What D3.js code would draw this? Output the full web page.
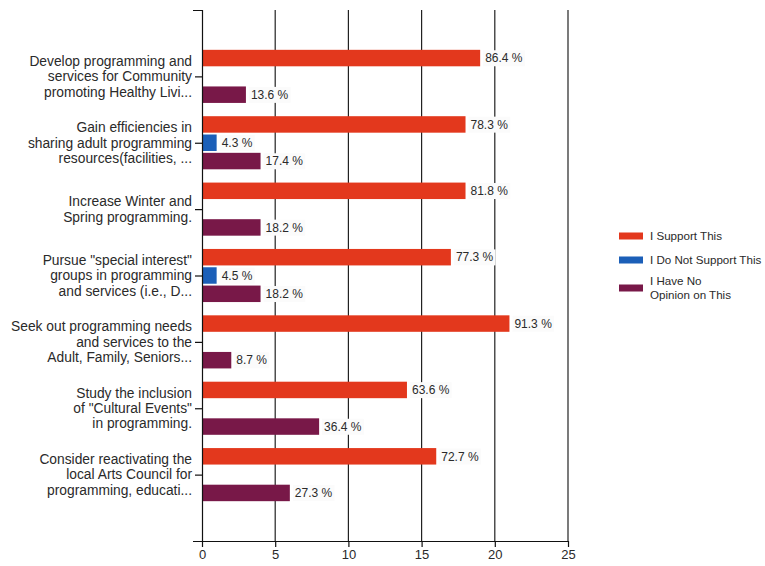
<!DOCTYPE html>
<html>
<head>
<meta charset="utf-8">
<script src="https://cdn.jsdelivr.net/npm/d3@7"></script>
<style>
  html, body { margin: 0; padding: 0; background: #fff; }
  svg { display: block; font-family: "Liberation Sans", Arial, sans-serif; }
</style>
</head>
<body>
<svg id="chart" width="765" height="566"></svg>
<script>
// Survey statements (wrapped and truncated as displayed on the axis)
const categories = [
  ["Develop programming and", "services for Community", "promoting Healthy Livi..."],
  ["Gain efficiencies in", "sharing adult programming", "resources(facilities, ..."],
  ["Increase Winter and", "Spring programming."],
  ["Pursue \"special interest\"", "groups in programming", "and services (i.e., D..."],
  ["Seek out programming needs", "and services to the", "Adult, Family, Seniors..."],
  ["Study the inclusion", "of \"Cultural Events\"", "in programming."],
  ["Consider reactivating the", "local Arts Council for", "programming, educati..."]
];

// Response series and counts per statement
const seriesNames = ["I Support This", "I Do Not Support This", "I Have No Opinion on This"];
const legendLines = [["I Support This"], ["I Do Not Support This"], ["I Have No", "Opinion on This"]];
const supportCounts    = [19, 18, 18, 17, 21, 14, 16];
const notSupportCounts = [0, 1, 0, 1, 0, 0, 0];
const noOpinionCounts  = [3, 4, 4, 4, 2, 8, 6];
const seriesColors = ["#e3381d", "#1b5fb8", "#781848"];
const xTickValues = [0, 5, 10, 15, 20, 25];

const counts = [supportCounts, notSupportCounts, noOpinionCounts];
const totals = categories.map((_, i) => counts.reduce((s, c) => s + c[i], 0));

const svg = d3.select("#chart");
const margin = { top: 10, right: 197, bottom: 25, left: 202 };
const W = +svg.attr("width"), H = +svg.attr("height");
const plotW = W - margin.left - margin.right;
const plotH = H - margin.top - margin.bottom;
const textColor = "#2a2a2a";

const g = svg.append("g").attr("transform", `translate(${margin.left},${margin.top})`);

const x = d3.scaleLinear().domain([0, 25]).range([0, plotW]);
const catIdx = d3.range(categories.length);
const y0 = d3.scaleBand().domain(catIdx).range([0, plotH]).paddingInner(0.2).paddingOuter(0.6);
const y1 = d3.scaleBand().domain(d3.range(seriesNames.length)).range([0, y0.bandwidth()]).paddingInner(0.1);

// vertical gridlines
g.append("g").selectAll("line")
  .data(xTickValues.filter(v => v > 0))
  .join("line")
  .attr("x1", d => x(d)).attr("x2", d => x(d))
  .attr("y1", 0).attr("y2", plotH)
  .attr("stroke", "#222").attr("stroke-width", 1.2);

// bars
const rows = [];
catIdx.forEach(i => {
  counts.forEach((c, s) => {
    rows.push({ cat: i, s, value: c[i], pct: c[i] / totals[i] * 100 });
  });
});
const visible = rows.filter(d => d.value > 0);

g.append("g").selectAll("rect")
  .data(visible)
  .join("rect")
  .attr("x", x(0) + 1)
  .attr("y", d => y0(d.cat) + y1(d.s))
  .attr("width", d => x(d.value) - x(0) - 1)
  .attr("height", y1.bandwidth())
  .attr("fill", d => seriesColors[d.s]);

// value labels with light backing boxes
const lab = g.append("g").selectAll("g")
  .data(visible)
  .join("g")
  .attr("transform", d => `translate(${x(d.value) + 5},${y0(d.cat) + y1(d.s) + y1.bandwidth() / 2})`);

lab.append("text")
  .attr("dy", "0.35em")
  .attr("font-size", 12)
  .attr("fill", textColor)
  .text(d => d.pct.toFixed(1) + " %");

lab.each(function () {
  const t = d3.select(this).select("text").node();
  const b = t.getBBox();
  d3.select(this).insert("rect", "text")
    .attr("x", b.x - 2).attr("y", b.y - 1)
    .attr("width", b.width + 4).attr("height", b.height + 2)
    .attr("fill", "#fbfbfb");
});

// left axis (category ticks)
const yAxis = g.append("g")
  .call(d3.axisLeft(d3.scalePoint().domain(catIdx).range([0, plotH]).padding(1))
    .tickSize(7).tickSizeOuter(9).tickFormat(""));
yAxis.select(".domain").attr("stroke", "#111").attr("stroke-width", 1.2);
yAxis.selectAll(".tick line").attr("stroke", "#111").attr("stroke-width", 1.2);

// category labels
const lineH = 15.3;
const catLabels = g.append("g").selectAll("text")
  .data(catIdx)
  .join("text")
  .attr("x", -10)
  .attr("y", i => y0(i) + y0.bandwidth() / 2)
  .attr("text-anchor", "end")
  .attr("font-size", 13.8)
  .attr("fill", textColor);
catLabels.each(function (i) {
  const lines = categories[i];
  const off = -(lines.length - 1) / 2 * lineH;
  d3.select(this).selectAll("tspan")
    .data(lines)
    .join("tspan")
    .attr("x", -10)
    .attr("y", (d, k) => y0(i) + y0.bandwidth() / 2 + off + k * lineH)
    .attr("dy", "0.35em")
    .text(d => d);
});

// bottom axis
const xAxis = g.append("g")
  .attr("transform", `translate(0,${plotH})`)
  .call(d3.axisBottom(x).tickValues(xTickValues).tickSize(6).tickSizeOuter(0));
xAxis.select(".domain").attr("stroke", "#111").attr("stroke-width", 1.2);
xAxis.selectAll(".tick line").attr("stroke", "#111").attr("stroke-width", 1.2);
xAxis.selectAll(".tick text")
  .attr("font-size", 13).attr("fill", textColor)
  .attr("font-family", "\"Liberation Sans\", Arial, sans-serif")
  .attr("y", 9);

// legend
const legendY = [236, 260, 288];
const legend = svg.append("g").selectAll("g")
  .data(seriesNames)
  .join("g")
  .attr("transform", (d, i) => `translate(619,${legendY[i]})`);
legend.append("rect")
  .attr("x", 0).attr("y", -3.5)
  .attr("width", 24).attr("height", 7)
  .attr("fill", (d, i) => seriesColors[i]);
legend.append("text")
  .attr("font-size", 11.6)
  .attr("fill", textColor)
  .each(function (d, i) {
    const lines = legendLines[i];
    const lh = 13.5;
    const off = -(lines.length - 1) / 2 * lh;
    d3.select(this).selectAll("tspan")
      .data(lines)
      .join("tspan")
      .attr("x", 31)
      .attr("y", (t, k) => off + k * lh)
      .attr("dy", "0.35em")
      .text(t => t);
  });
</script>
</body>
</html>
